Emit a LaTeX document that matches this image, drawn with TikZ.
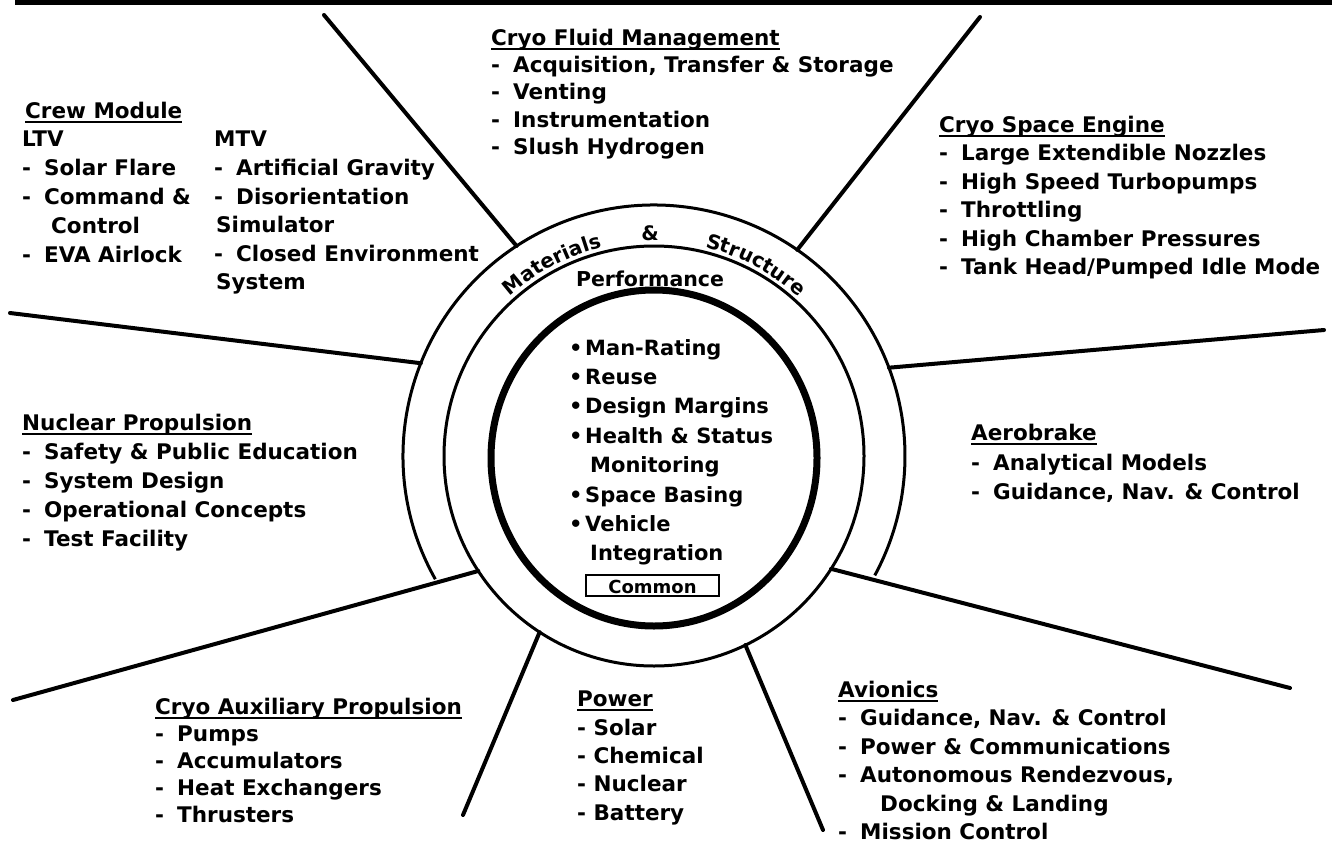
\documentclass[tikz,border=0pt]{standalone}
\usepackage{fontspec}
\setmainfont{DejaVu Sans}
\usetikzlibrary{positioning,decorations.text}

\newcommand{\itm}{\makebox[22pt][l]{-}}
\newcommand{\bul}{\makebox[16pt][l]{•}}
\newcommand{\topstrut}{\rule{0pt}{17pt}}
\newcommand{\hdr}[1]{\setbox0\hbox{#1}\rlap{\rule[-4.5pt]{\wd0}{2pt}}\box0}
\newcommand{\bandfont}{\fontsize{20}{24}\selectfont\bfseries}

\tikzset{
topic/.style={font=\fontsize{21.5}{#1}\selectfont\bfseries, align=left,
  inner sep=0pt, anchor=north west, execute at begin node=\topstrut},
topic/.default=28.5,
ring/.style={line width=3pt},
spoke/.style={line width=4pt, line cap=round}
}

\begin{document}
\begin{tikzpicture}[x=1pt, y=-1pt]
\useasboundingbox (0,0) rectangle (1332,843);
% rule along the top
\fill (15,0) rectangle (1332,5);
% rings
\coordinate (ctr) at (654,456);
\draw[ring] (ctr) ++(150.6:251) arc[start angle=150.6, end angle=388.4, radius=251];
\draw[ring] (ctr) circle[radius=210];
\draw[line width=7pt] (654,458) ellipse[x radius=163, y radius=168];
% spokes
\foreach \a/\r/\ex/\ey in {236.8/251/324/15, 304.8/251/980/17, 201.7/251/10/313,
  339.4/251/1324/330, 146.8/210/13/700, 32.5/210/1290/688, 123/210/463/815,
  64.2/210/823/830}
  \draw[spoke] (ctr) ++(\a:\r) -- (\ex,\ey);
% band text
\path[decorate, decoration={text along path, text align=center,
  text={|\bandfont|Materials}}]
  (ctr) ++(222:215) arc[start angle=222, end angle=262, radius=215];
\path[decorate, decoration={text along path, text align=center,
  text={|\bandfont|Structure}}]
  (ctr) ++(278:215) arc[start angle=278, end angle=318, radius=215];
\node[font=\bandfont] (amp) at (650,233) {\&};
\node[font=\fontsize{20.5}{24}\selectfont\bfseries, anchor=base] (perf) at (650,286) {Performance};

% centre
\node[topic=29.4, font=\fontsize{21}{29.4}\selectfont\bfseries] (core) at (569,339)
  {\bul Man-Rating\\\bul Reuse\\\bul Design Margins\\\bul Health \& Status\\
   \hspace{21pt}Monitoring\\\bul Space Basing\\\bul Vehicle\\\hspace{21pt}Integration};
\node[draw, line width=2.5pt, minimum width=133pt, minimum height=21pt, inner sep=0pt,
  text height=15pt, text depth=0pt, font=\fontsize{18}{20}\selectfont\bfseries]
  (common) at (652.5,585.5) {Common};

% areas
\node[topic=29] (crew) at (25,101) {\hdr{Crew Module}};
\node[topic=29] (ltv) at (22,131)
  {LTV\\\itm Solar Flare\\\itm Command \&\\\hspace{29pt}Control\\\itm EVA Airlock};
\node[topic=28.6] (mtv) at (214,131)
  {MTV\\\itm Artificial Gravity\\\itm Disorientation\\\hspace{2pt}Simulator\\
   \itm Closed Environment\\\hspace{2pt}System};
\node[topic=27.2] (fluid) at (491,29)
  {\hdr{Cryo Fluid Management}\\\itm Acquisition, Transfer \& Storage\\\itm Venting\\
   \itm Instrumentation\\\itm Slush Hydrogen};
\node[topic=28.4] (engine) at (939,116)
  {\hdr{Cryo Space Engine}\\\itm Large Extendible Nozzles\\\itm High Speed Turbopumps\\
   \itm Throttling\\\itm High Chamber Pressures\\\itm Tank Head/Pumped Idle Mode};
\node[topic=29] (nuclear) at (22,414)
  {\hdr{Nuclear Propulsion}\\\itm Safety \& Public Education\\\itm System Design\\
   \itm Operational Concepts\\\itm Test Facility};
\node[topic=29.5] (aero) at (971,424)
  {\hdr{Aerobrake}\\\itm Analytical Models\\\itm Guidance, Nav. \& Control};
\node[topic=27] (aux) at (155,698)
  {\hdr{Cryo Auxiliary Propulsion}\\\itm Pumps\\\itm Accumulators\\
   \itm Heat Exchangers\\\itm Thrusters};
\node[topic=28.3] (power) at (577,691)
  {\hdr{Power}\\- Solar\\- Chemical\\- Nuclear\\- Battery};
\node[topic=28.4] (avionics) at (838,681)
  {\hdr{Avionics}\\\itm Guidance, Nav. \& Control\\\itm Power \& Communications\\
   \itm Autonomous Rendezvous,\\\hspace{42pt}Docking \& Landing\\\itm Mission Control};
\end{tikzpicture}
\end{document}
